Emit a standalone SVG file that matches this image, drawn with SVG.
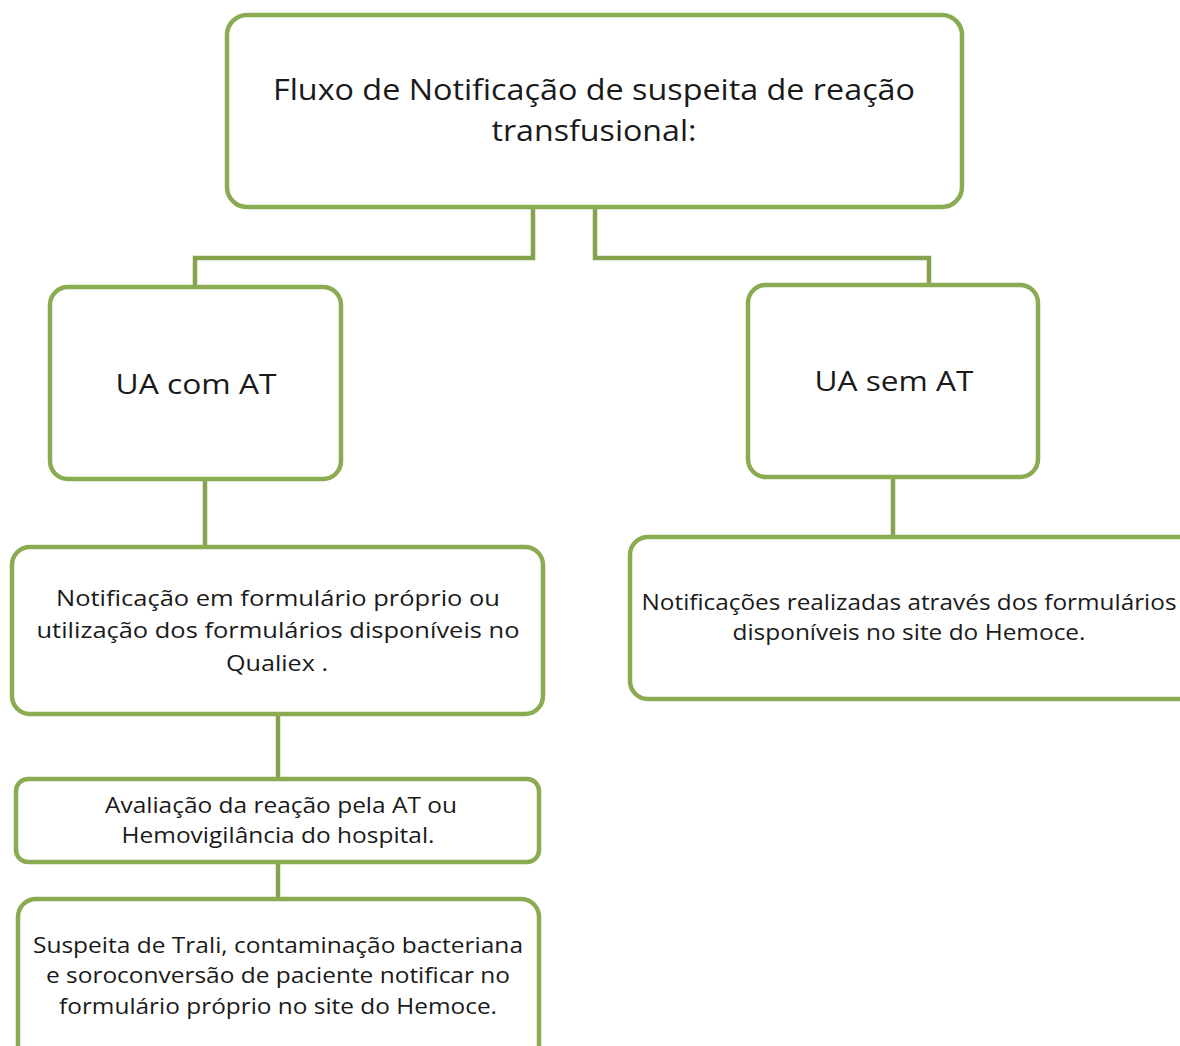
<svg xmlns="http://www.w3.org/2000/svg" width="1180" height="1046" viewBox="0 0 1180 1046">
<style>
.box{fill:#ffffff;stroke:#8aab52;stroke-width:4.5}
.con{fill:none;stroke:#85a34c;stroke-width:4.5}
text{font-family:"Open Sans","Noto Sans","DejaVu Sans",sans-serif;fill:#1a1a1a;text-anchor:middle}
.t1{font-size:30px}
.t2{font-size:28px}
.t3{font-size:22px}
</style>
<rect width="1180" height="1046" fill="#ffffff"/>
<g id="connectors">
<path class="con" d="M533,207 V258 H195 V287"/>
<path class="con" d="M595,207 V258 H929 V285"/>
<path class="con" d="M205,479 V547"/>
<path class="con" d="M278,714 V779"/>
<path class="con" d="M278,862 V899"/>
<path class="con" d="M893,477 V537"/>
</g>
<g id="title">
<rect class="box" x="227" y="15" width="735" height="192" rx="20"/>
<text class="t1" x="594" y="100" textLength="642" lengthAdjust="spacingAndGlyphs">Fluxo de Notificação de suspeita de reação</text>
<text class="t1" x="594" y="141" textLength="205" lengthAdjust="spacingAndGlyphs">transfusional:</text>
</g>
<g id="ua-com-at">
<rect class="box" x="50" y="287" width="291" height="192" rx="18"/>
<text class="t2" x="196" y="394" textLength="161" lengthAdjust="spacingAndGlyphs">UA com AT</text>
</g>
<g id="ua-sem-at">
<rect class="box" x="748" y="285" width="290" height="192" rx="18"/>
<text class="t2" x="894" y="391" textLength="159" lengthAdjust="spacingAndGlyphs">UA sem AT</text>
</g>
<g id="notificacao">
<rect class="box" x="12" y="547" width="531" height="167" rx="18"/>
<text class="t3" x="278" y="606" textLength="444" lengthAdjust="spacingAndGlyphs">Notificação em formulário próprio ou</text>
<text class="t3" x="278" y="638" textLength="483" lengthAdjust="spacingAndGlyphs">utilização dos formulários disponíveis no</text>
<text class="t3" x="277" y="671" textLength="102" lengthAdjust="spacingAndGlyphs">Qualiex .</text>
</g>
<g id="notificacoes-hemoce">
<rect class="box" x="630" y="537" width="570" height="162" rx="18"/>
<text class="t3" x="909" y="610" textLength="535" lengthAdjust="spacingAndGlyphs">Notificações realizadas através dos formulários</text>
<text class="t3" x="909" y="640" textLength="353" lengthAdjust="spacingAndGlyphs">disponíveis no site do Hemoce.</text>
</g>
<g id="avaliacao">
<rect class="box" x="16" y="779" width="523" height="83" rx="12"/>
<text class="t3" x="281" y="813" textLength="352" lengthAdjust="spacingAndGlyphs">Avaliação da reação pela AT ou</text>
<text class="t3" x="278" y="843" textLength="313" lengthAdjust="spacingAndGlyphs">Hemovigilância do hospital.</text>
</g>
<g id="suspeita">
<rect class="box" x="18" y="899" width="521" height="170" rx="18"/>
<text class="t3" x="278" y="953" textLength="490" lengthAdjust="spacingAndGlyphs">Suspeita de Trali, contaminação bacteriana</text>
<text class="t3" x="278" y="983" textLength="464" lengthAdjust="spacingAndGlyphs">e soroconversão de paciente notificar no</text>
<text class="t3" x="278" y="1014" textLength="438" lengthAdjust="spacingAndGlyphs">formulário próprio no site do Hemoce.</text>
</g>
</svg>
